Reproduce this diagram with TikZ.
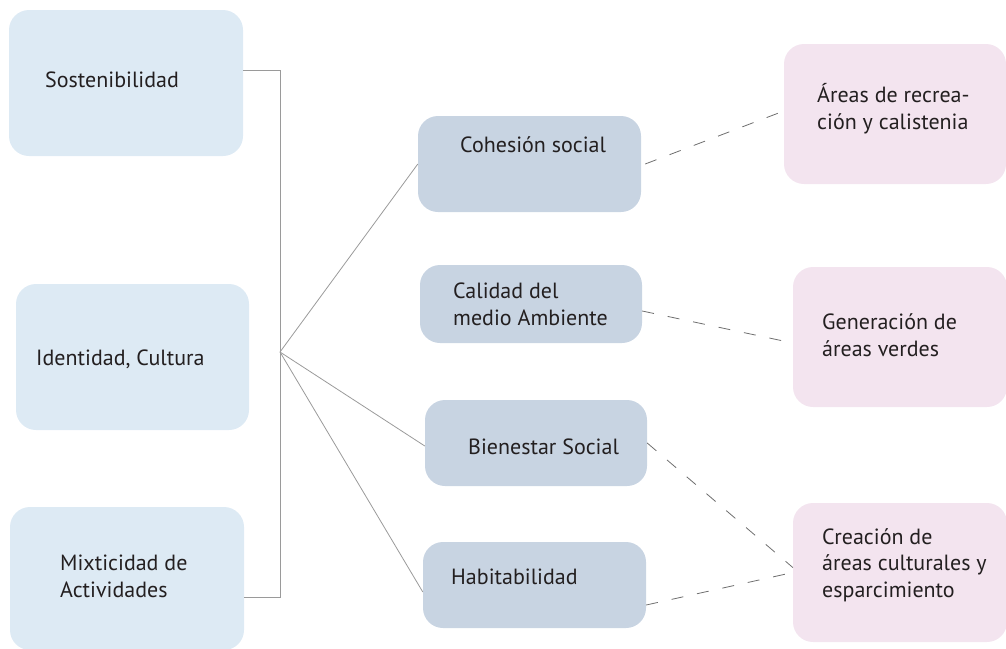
\documentclass[tikz,border=0pt]{standalone}
\usepackage{fontspec}
\setmainfont{PT Sans}
\definecolor{lblue}{HTML}{DDEAF4}
\definecolor{mblue}{HTML}{C8D4E2}
\definecolor{lpink}{HTML}{F3E4EF}
\definecolor{txtc}{HTML}{231F20}
\definecolor{linec}{HTML}{9A9A9A}
\definecolor{dashc}{HTML}{6E6E6E}
\begin{document}
\begin{tikzpicture}[x=1pt,y=-1pt,
  boxbase/.style={rectangle, rounded corners=20pt, draw=none, inner sep=0pt},
  lbox/.style={boxbase, fill=lblue},
  mbox/.style={boxbase, fill=mblue},
  pbox/.style={boxbase, fill=lpink},
  txt/.style={anchor=base west, inner sep=0pt, text=txtc, font=\fontsize{22}{26.5}\selectfont, align=left},
  solidline/.style={draw=linec, line width=0.8pt},
  dashline/.style={draw=dashc, line width=0.8pt, dash pattern=on 12pt off 14pt}]
\useasboundingbox (0,0) rectangle (1006,648);
% left column
\node[lbox, minimum width=234pt, minimum height=146pt] (b1) at (126,83) {};
\node[lbox, minimum width=233pt, minimum height=146pt] (b2) at (132.5,357) {};
\node[lbox, minimum width=234pt, minimum height=143pt] (b3) at (127,578.5) {};
% middle column
\node[mbox, minimum width=223pt, minimum height=96pt] (m1) at (529.5,164) {};
\node[mbox, minimum width=222pt, minimum height=78pt] (m2) at (531,304) {};
\node[mbox, minimum width=222pt, minimum height=86pt] (m3) at (536,443) {};
\node[mbox, minimum width=223pt, minimum height=86pt] (m4) at (534.5,585) {};
% right column
\node[pbox, minimum width=222pt, minimum height=140pt] (r1) at (895,114) {};
\node[pbox, minimum width=214pt, minimum height=140pt] (r2) at (900,337) {};
\node[pbox, minimum width=214pt, minimum height=139pt] (r3) at (900,572.5) {};
% texts (base anchor = baseline of last line)
\node[txt] (t1) at (45,87) {Sostenibilidad};
\node[txt] (t2) at (36,365) {Identidad, Cultura};
\node[txt] (t3) at (60,597) {Mixticidad de\\Actividades};
\node[txt] (t4) at (460,152) {Cohesión social};
\node[txt] (t5) at (453,325) {Calidad del\\medio Ambiente};
\node[txt] (t6) at (468,454) {Bienestar Social};
\node[txt] (t7) at (451,584) {Habitabilidad};
\node[txt] (t8) at (817,129) {Áreas de recrea-\\ción y calistenia};
\node[txt] (t9) at (822,356) {Generación de\\áreas verdes};
\node[txt] (t10) at (822,597) {Creación de\\áreas culturales y\\esparcimiento};
% bracket and fan
\coordinate (ct) at (280,70);
\coordinate (cb) at (280,597);
\coordinate (hub) at (280,352);
\draw[solidline] (b1.east |- ct) -- (ct) -- (cb) -- (b3.east |- cb);
\draw[solidline] (hub) -- (m1.west);
\draw[solidline] (hub) -- ([yshift=-3pt]m3.west);
\draw[solidline] (hub) -- ([yshift=-7pt]m4.west);
% dashed connectors
\draw[dashline] ([xshift=4pt]m1.east) -- ([yshift=3pt]r1.west);
\draw[dashline] ([yshift=-7pt]m2.east) -- ([yshift=-6pt]r2.west);
\draw[dashline] (m3.east) -- ([yshift=5pt]r3.west);
\draw[dashline] ([yshift=-20pt]m4.east) -- (r3.west);
\end{tikzpicture}
\end{document}
